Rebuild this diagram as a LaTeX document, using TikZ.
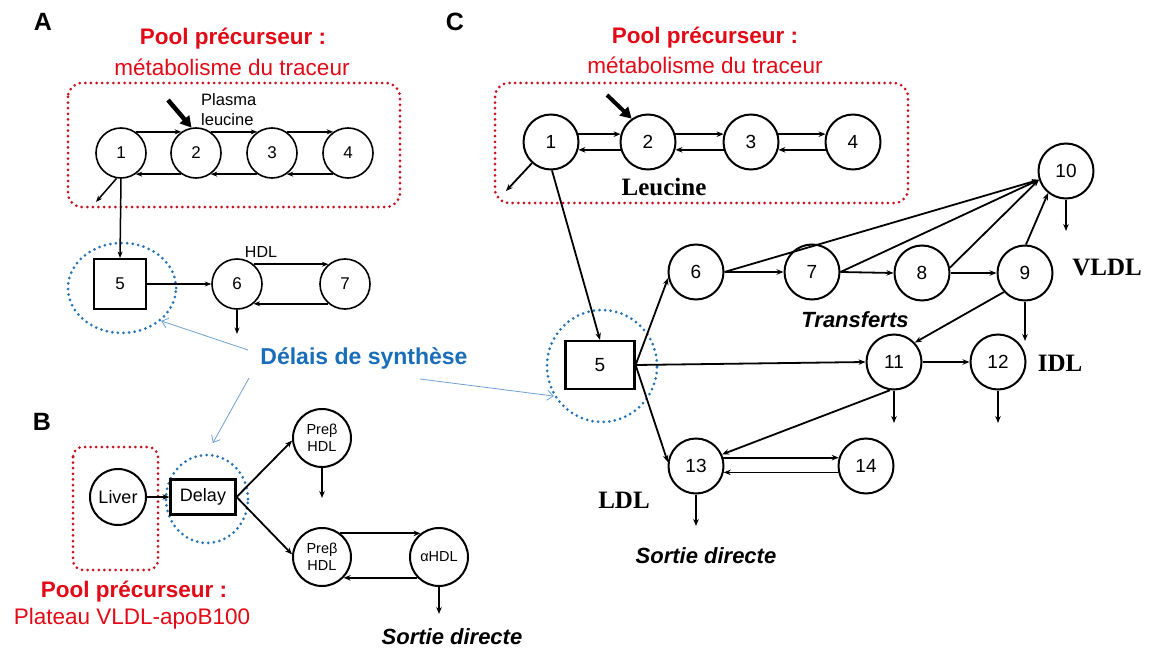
\documentclass[tikz,border=0pt]{standalone}
\usepackage{fontspec}
\setmainfont{Liberation Sans}
\newfontfamily\tnr{Liberation Serif}
\usetikzlibrary{arrows.meta,shapes.geometric,calc}

\newcommand\fsz[1]{\fontsize{#1}{#1}\selectfont}

\definecolor{poolred}{RGB}{226,10,22}
\definecolor{dotred}{RGB}{200,16,30}
\definecolor{delayblue}{RGB}{25,110,185}
\definecolor{dotblue}{RGB}{35,115,180}
\definecolor{pointercol}{RGB}{110,160,210}

\tikzset{
  poolA/.style={circle,draw,line width=1.6pt,minimum size=50pt,inner sep=0pt,font=\fsz{17}},
  poolC/.style={circle,draw,line width=2pt,minimum size=55pt,inner sep=0pt,font=\fsz{19}},
  hdlB/.style={circle,draw,line width=2pt,minimum size=58pt,inner sep=0pt,font=\fontsize{14.5}{17}\selectfont,align=center},
  boxnode/.style={rectangle,draw,line width=2pt,inner sep=0pt},
  flow/.style={-{Stealth[length=6.5pt,width=5pt]},line width=1.5pt},
  flowC/.style={-{Stealth[length=7pt,width=5.5pt]},line width=1.8pt},
  tracer/.style={-{Triangle[length=11pt,width=12pt]},line width=4.5pt},
  redpool/.style={draw=dotred,line width=3pt,dash pattern=on 0pt off 5.6pt,line cap=round,rounded corners=14pt},
  delayring/.style={ellipse,draw=dotblue,line width=3pt,dash pattern=on 0pt off 5.6pt,line cap=round,inner sep=0pt},
  pointer/.style={draw=pointercol,line width=0.8pt,-{Straight Barb[length=6pt,width=10pt]}},
  poolhead/.style={text=poolred,font=\fsz{22.5}\bfseries},
  poolsub/.style={text=poolred,font=\fsz{22.5}},
  panel/.style={font=\fsz{25}\bfseries},
  outlabel/.style={font=\fsz{22}\bfseries\itshape},
  fraction/.style={font=\fsz{25}\tnr\bfseries}
}

\begin{document}
\begin{tikzpicture}[x=1pt,y=-1pt]
\useasboundingbox (0,0) rectangle (1149,650);
\fill[white] (0,0) rectangle (1149,650);

% ---------------- Panel A ----------------
\node[panel] (labA) at (43,22) {A};
\node[poolhead] (titA1) at (233,39) {Pool précurseur :};
\node[poolsub] (titA2) at (232,67) {métabolisme du traceur};
\draw[redpool] (68,83) rectangle (400,207);
\node[delayring,minimum width=108pt,minimum height=90pt] (ringA) at (122,288) {};

\node[poolA] (a1) at (121,153) {1};
\node[poolA] (a2) at (196,153) {2};
\node[poolA] (a3) at (272,153) {3};
\node[poolA] (a4) at (348,153) {4};
\node[boxnode,minimum width=52pt,minimum height=50pt,font=\fsz{17}] (a5) at (120,284) {5};
\node[poolA] (a6) at (237,284) {6};
\node[poolA] (a7) at (345,284) {7};

\node[anchor=west,align=left,inner sep=0pt,font=\fontsize{16.5}{20}\selectfont] (plasma) at (201,110) {Plasma\\leucine};
\node[font=\fsz{16}] (hdlA) at (261,252) {HDL};

\draw[flow] (a1.55) -- (a2.125);
\draw[flow] (a2.-125) -- (a1.-55);
\draw[flow] (a2.55) -- (a3.125);
\draw[flow] (a3.-125) -- (a2.-55);
\draw[flow] (a3.55) -- (a4.125);
\draw[flow] (a4.-125) -- (a3.-55);
\coordinate (a1out) at (96,202);
\draw[flow] (a1.-100) -- (a1out);
\draw[flow] (a1.south) -- (a5.north);
\coordinate (a2in) at (168,100);
\draw[tracer] (a2in) -- (a2.100);
\draw[flow] (a5.east) -- (a6.west);
\draw[flow] (a6.50) -- (a7.130);
\draw[flow] (a7.-130) -- (a6.-50);
\coordinate (a6out) at (237,334);
\draw[flow] (a6.south) -- (a6out);

% ---------------- Panel B ----------------
\node[panel] (labB) at (42,422) {B};
\draw[redpool,rounded corners=10pt] (73,447) rectangle (158,570);
\node[delayring,minimum width=82pt,minimum height=88pt] (ringB) at (207,499) {};
\node[circle,draw,line width=2pt,minimum size=56pt,inner sep=0pt,font=\fsz{18}] (liver) at (118,497) {Liver};
\node[boxnode,line width=2.2pt,minimum width=65pt,minimum height=35pt,font=\fsz{18}] (dly) at (203,497) {Delay};
\node[hdlB] (pbt) at (322,438) {Preβ\\HDL};
\node[hdlB] (pbb) at (322,557) {Preβ\\HDL};
\node[hdlB] (ahdl) at (439,557) {αHDL};

\draw[flowC,line width=2.4pt] (liver.east) -- (dly.west);
\draw[flowC] (dly.east) -- (pbt.185);
\draw[flowC] (dly.east) -- (pbb.175);
\coordinate (pbtout) at (322,498);
\draw[flowC] (pbt.south) -- (pbtout);
\draw[flowC] (pbb.52) -- (ahdl.128);
\draw[flowC] (ahdl.-136) -- (pbb.-44);
\coordinate (ahdlout) at (439,614);
\draw[flowC] (ahdl.south) -- (ahdlout);

\node[poolhead] (titB1) at (134,592) {Pool précurseur :};
\node[poolsub] (titB2) at (132,619) {Plateau VLDL-apoB100};
\node[outlabel] (sortB) at (452,637) {Sortie directe};

% ---------------- Panel C ----------------
\node[panel] (labC) at (455,22) {C};
\node[poolhead] (titC1) at (705,38) {Pool précurseur :};
\node[poolsub] (titC2) at (705,65) {métabolisme du traceur};
\draw[redpool] (495,83) rectangle (908,203);
\node[delayring,minimum width=110pt,minimum height=112pt] (ringC) at (602,366) {};

\node[poolC] (c1) at (551,142) {1};
\node[poolC] (c2) at (648,142) {2};
\node[poolC] (c3) at (751,142) {3};
\node[poolC] (c4) at (853,142) {4};
\node[boxnode,line width=2.2pt,minimum width=69pt,minimum height=48pt,font=\fsz{19}] (c5) at (600,365) {5};
\node[poolC] (c6) at (696,272) {6};
\node[poolC] (c7) at (812,272) {7};
\node[poolC] (c8) at (922,273) {8};
\node[poolC] (c9) at (1025,273) {9};
\node[poolC] (c10) at (1066,171) {10};
\node[poolC] (c11) at (894,362) {11};
\node[poolC] (c12) at (998,362) {12};
\node[poolC] (c13) at (696,466) {13};
\node[poolC] (c14) at (866,466) {14};

\node[fraction] (leu) at (664,187) {Leucine};
\node[fraction] (vldl) at (1107,268) {VLDL};
\node[fraction] (idl) at (1060,363) {IDL};
\node[fraction] (ldl) at (624,500) {LDL};
\node[outlabel] (transf) at (855,320) {Transferts};
\node[outlabel] (sortC) at (706,556) {Sortie directe};

\draw[flowC] (c1.16) -- (c2.164);
\draw[flowC] (c2.-164) -- (c1.-16);
\draw[flowC] (c2.16) -- (c3.164);
\draw[flowC] (c3.-164) -- (c2.-16);
\draw[flowC] (c3.16) -- (c4.164);
\draw[flowC] (c4.-164) -- (c3.-16);
\coordinate (c2in) at (607,95);
\draw[tracer,line width=4pt] (c2in) -- (c2.125);
\coordinate (c1out) at (506,191);
\draw[flowC] (c1.228) -- (c1out);
\draw[flowC] (c1.-88) -- (c5.north);

\draw[flowC] (c5.east) -- (c6.192);
\draw[flowC] (c5.east) -- (c11.west);
\draw[flowC] (c5.east) -- (c13.172);
\draw[flowC] (c6.east) -- (c7.west);
\draw[flowC] (c7.east) -- (c8.west);
\draw[flowC] (c8.east) -- (c9.west);
\draw[flowC] (c6.east) -- (c10.198);
\draw[flowC] (c7.east) -- (c10.198);
\draw[flowC] (c8.11) -- (c10.198);
\draw[flowC] (c9.88) -- (c10.231);
\coordinate (c10out) at (1066,231);
\draw[flowC] (c10.south) -- (c10out);
\draw[flowC] (c9.222) -- (c11.43);
\coordinate (c9out) at (1025,341);
\draw[flowC] (c9.south) -- (c9out);
\draw[flowC] (c11.east) -- (c12.west);
\coordinate (c11out) at (894,423);
\draw[flowC] (c11.south) -- (c11out);
\coordinate (c12out) at (998,423);
\draw[flowC] (c12.south) -- (c12out);
\draw[flowC] (c11.262) -- (c13.24);
\draw[flowC] (c13.17) -- (c14.163);
\draw[flowC] (c14.-167) -- (c13.-13);
\coordinate (c13out) at (696,526);
\draw[flowC] (c13.south) -- (c13out);

% ---------------- Synthesis delay callout ----------------
\node[text=delayblue,font=\fsz{23}\bfseries] (delaytxt) at (364,358) {Délais de synthèse};
\coordinate (pA) at (248,350);
\coordinate (pB) at (249,378);
\coordinate (pC) at (420,379);
\draw[pointer] (pA) -- (ringA.-40);
\draw[pointer,shorten >=12pt] (pB) -- (ringB.north);
\draw[pointer] (pC) -- (ringC.212);
\end{tikzpicture}
\end{document}
